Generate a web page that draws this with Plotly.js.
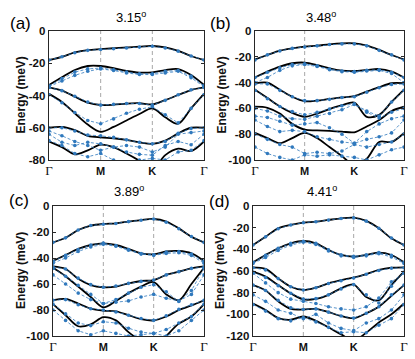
<!DOCTYPE html>
<html><head><meta charset="utf-8">
<script src="https://cdn.plot.ly/plotly-3.0.1.min.js"></script>
<style>html,body{margin:0;padding:0;background:#fff}#chart{width:415px;height:359px}</style>
</head><body><div id="chart"></div>
<script>
// k-path sample positions (Γ=0, M=1, K=2, Γ=3)
const kPath = [0,0.25,0.5,0.75,1,1.25,1.5,1.75,2,2.25,2.5,2.75,3];
const kTickVals = [0,1,2,3];
const kTickLabels = ['Γ','M','K','Γ'];
const panelLabels = ['(a)','(b)','(c)','(d)'];
const panelAngles = ['3.15','3.48','3.89','4.41'];
const yAxisTitle = 'Energy (meV)';
const yMins = [-80,-100,-100,-120];

// (a) 3.15°
const aBlack1 = [-18,-16,-13.3,-11.8,-11.2,-10.7,-10.1,-9.7,-9.3,-10.2,-12.3,-15.5,-18];
const aBlack2 = [-33.5,-28.7,-24.2,-21.7,-21.7,-23.1,-24.8,-25.8,-25.6,-24.2,-23.6,-27.3,-33.5];
const aBlack3 = [-35,-37,-40.7,-44.4,-45.9,-45.7,-45,-44.8,-45.5,-42.8,-39.7,-36.6,-35];
const aBlack4 = [-39,-44,-51,-58,-62.5,-59.5,-55.5,-51.5,-48,-53.5,-57.5,-48,-39];
const aBlack5 = [-60,-59.5,-61.5,-65,-66,-66.5,-67.5,-69,-70,-68,-63.5,-60,-60];
const aBlack6 = [-68.5,-72,-76.5,-74,-70.5,-72,-76,-80.5,-86,-77,-73,-74.5,-68.5];
const aBlue1 = [-18,-16,-13.5,-12,-11.5,-11,-10.5,-10,-9.5,-10.5,-12.5,-15.5,-18];
const aBlue2 = [-34,-29.5,-25.5,-23.5,-23,-24,-25.5,-26.5,-26.5,-25,-24.5,-28,-34];
const aBlue3 = [-34.5,-31,-27.5,-25,-23.5,-24.5,-26,-27,-27,-26,-25,-29,-34.5];
const aBlue4 = [-35,-37,-40.5,-44,-46,-45.5,-45,-45,-46,-43,-39.5,-36.5,-35];
const aBlue5 = [-39.5,-44.5,-50.5,-55.5,-57.5,-54.5,-51,-48.5,-47,-52,-57,-48,-39.5];
const aBlue6 = [-60,-60,-62,-64.5,-65,-66,-67.5,-69,-70,-68.5,-63.5,-60.5,-60];
const aBlue7 = [-62,-65,-68.5,-71,-74,-72,-71,-72,-75,-72,-64,-63,-62];
const aBlue8 = [-64,-69,-71,-69,-70,-72,-75,-76.5,-77,-71,-68.5,-70.5,-64];
const aBlue9 = [-68,-71,-76,-78,-76,-80,-82,-80,-79,-80,-75,-74,-68];

// (b) 3.48°
const bBlack1 = [-22,-18.6,-15.2,-13.4,-12.1,-11.4,-10.3,-9.6,-9.6,-11.4,-14.7,-18.6,-22];
const bBlack2 = [-36,-31.5,-27.6,-25,-24.5,-26.4,-29,-30.7,-31,-30.2,-29.5,-31.5,-36];
const bBlack3 = [-40.5,-40,-45.5,-51,-54.5,-54,-52.7,-51.5,-50.5,-47,-43.5,-40.5,-40.5];
const bBlack4 = [-45.5,-52,-58.5,-63.5,-66.5,-64,-60.5,-57.5,-55.5,-66.5,-65,-55,-45.5];
const bBlack5 = [-58.7,-59.5,-64,-72,-76.5,-77,-77.5,-78,-78.5,-74,-69,-62,-58.7];
const bBlack6 = [-79,-83,-87,-83,-79,-83,-90,-97,-104,-99,-86,-86,-79];
const bBlue1 = [-22.5,-18.5,-15.5,-13.5,-12.5,-11.5,-10.5,-10,-10,-11.5,-15,-18.5,-22.5];
const bBlue2 = [-36,-32,-28.5,-26,-25.5,-27,-29.5,-31,-31.5,-30.5,-30,-32,-36];
const bBlue3 = [-40,-36,-30.5,-27,-26,-27.5,-30,-31.5,-32,-31,-30.5,-33,-40];
const bBlue4 = [-41,-41,-46,-51,-54,-54,-53,-51.5,-51,-47.5,-44,-41.5,-41];
const bBlue5 = [-46,-52.5,-58.5,-62.5,-65,-63,-60.5,-58,-56.5,-62,-66,-55,-46];
const bBlue6 = [-60,-62,-66,-68,-68.5,-66,-64,-61,-57,-63,-67.5,-63,-60];
const bBlue7 = [-66,-67,-70,-73,-72,-71,-75,-80,-87,-78,-72,-68,-66];
const bBlue8 = [-69,-74,-78,-77,-78,-82,-84,-86,-87,-84,-82,-79,-69];
const bBlue9 = [-80,-84,-88,-90,-95,-94,-95,-93,-88,-90,-88,-86,-80];
const bBlue10 = [-90,-95,-98,-100,-96,-97,-96,-97,-98,-100,-96,-92,-90];

// (c) 3.89°
const cBlack1 = [-28,-24.4,-18.5,-15.1,-13.8,-13.3,-12,-10.8,-10,-12,-17.2,-23.6,-28];
const cBlack2 = [-42.3,-37.7,-33,-30,-28.7,-30,-33,-36.4,-37.2,-35,-34.6,-36.4,-42.3];
const cBlack3 = [-46.5,-48.5,-56,-60.8,-62.5,-62,-59.5,-57.7,-57,-53,-50.5,-48,-46.5];
const cBlack4 = [-47.5,-54,-62,-70,-78,-73,-67,-62,-58.5,-68,-72.5,-60,-47.5];
const cBlack5 = [-72.5,-71.5,-75,-79,-80.5,-81,-84,-87,-88,-85,-80,-76.5,-72.5];
const cBlack6 = [-75.5,-84,-92.5,-91,-85.5,-88,-97,-104,-110,-100,-90.5,-85,-75.5];
const cBlue1 = [-28,-24.5,-18.5,-15,-14,-13.5,-12,-11,-10,-12.5,-17.5,-23.5,-28];
const cBlue2 = [-42.5,-38,-33.5,-30,-28.5,-30.5,-33.5,-36.5,-37.5,-35.5,-35,-37,-42.5];
const cBlue3 = [-44,-40,-35,-31.5,-29.5,-31,-34,-37,-38,-36.5,-36,-38,-44];
const cBlue4 = [-47,-48.5,-55.5,-60.5,-62.5,-61.5,-59.5,-58,-57,-53,-50.5,-48,-47];
const cBlue5 = [-48,-54,-61,-68,-75,-72,-67,-62.5,-60.5,-66,-73.5,-65,-48];
const cBlue6 = [-53,-60,-67,-72,-75,-74,-73,-70,-68,-71,-73,-68,-53];
const cBlue7 = [-72.5,-72,-76,-79,-80,-81.5,-84,-86.5,-88,-84.5,-79.5,-76,-72.5];
const cBlue8 = [-75.5,-83,-90,-92,-89,-90,-94,-97,-98,-95,-90,-85,-75.5];
const cBlue9 = [-80,-88,-96,-99,-96,-98,-100,-99,-98,-100,-96,-88,-80];

// (d) 4.41°
const dBlack1 = [-36,-28.3,-20.6,-17.5,-15.4,-14.5,-12.9,-11.4,-10.8,-13.8,-20.6,-29.8,-36];
const dBlack2 = [-52,-45.2,-39,-34.5,-32.3,-34.5,-40.6,-45.2,-46.8,-45.2,-43,-45.2,-52];
const dBlack3 = [-56.6,-58,-66.8,-74.5,-77.5,-75.4,-71.4,-68.5,-66,-62.8,-59,-57,-56.6];
const dBlack4 = [-60.6,-65.2,-73,-80.6,-86.2,-85.8,-82,-76,-72.5,-84,-87,-73,-60.6];
const dBlack5 = [-73,-78,-88,-95,-95.5,-95,-98,-101.5,-103.5,-99,-93,-83,-73];
const dBlack6 = [-90,-96,-103.5,-105,-102,-106,-112,-118.5,-124,-117,-107.5,-100,-90];
const dBlue1 = [-36,-28.5,-21,-17.5,-15.5,-14.5,-13,-11.5,-11,-14,-20.5,-29.5,-36];
const dBlue2 = [-52,-45.5,-39,-34.5,-32.5,-34.5,-40.5,-45,-46.5,-45,-43,-45.5,-52];
const dBlue3 = [-53,-47.5,-41,-36,-33.5,-35.5,-41.5,-46,-47.5,-46,-44,-47,-53];
const dBlue4 = [-57,-59,-67,-74.5,-77.5,-75.5,-71.5,-69,-66.5,-63,-59.5,-57.5,-57];
const dBlue5 = [-61,-66,-73.5,-80.5,-86,-85.5,-82,-76.5,-72.5,-82,-89.5,-74,-61];
const dBlue6 = [-62,-71,-80,-86,-88,-90,-93,-95,-96,-93,-85,-70,-62];
const dBlue7 = [-73,-78,-87,-94,-95.5,-95,-98,-101.5,-103.5,-99,-93,-82,-73];
const dBlue8 = [-82,-88,-96,-99,-104,-100,-108,-113,-115,-108,-104,-96,-82];
const dBlue9 = [-91,-97,-104,-106,-103,-107,-112,-117,-116,-117,-110,-104,-91];

const panels = [
  {black:[aBlack1,aBlack2,aBlack3,aBlack4,aBlack5,aBlack6], blue:[aBlue1,aBlue2,aBlue3,aBlue4,aBlue5,aBlue6,aBlue7,aBlue8,aBlue9], dashK:true},
  {black:[bBlack1,bBlack2,bBlack3,bBlack4,bBlack5,bBlack6], blue:[bBlue1,bBlue2,bBlue3,bBlue4,bBlue5,bBlue6,bBlue7,bBlue8,bBlue9,bBlue10], dashK:false},
  {black:[cBlack1,cBlack2,cBlack3,cBlack4,cBlack5,cBlack6], blue:[cBlue1,cBlue2,cBlue3,cBlue4,cBlue5,cBlue6,cBlue7,cBlue8,cBlue9], dashK:true},
  {black:[dBlack1,dBlack2,dBlack3,dBlack4,dBlack5,dBlack6], blue:[dBlue1,dBlue2,dBlue3,dBlue4,dBlue5,dBlue6,dBlue7,dBlue8,dBlue9], dashK:true}
];

const W = 415, H = 359;
// plot-area boxes in pixels: [left, right, top, bottom]
const boxes = [[49,204,31,160],[255,404,31,160],[53,204,206,336],[253,404,206,336]];
const labelPos = [[20,23],[220,23],[19,200],[219,201]];
const titlePos = [[131,17],[321,17],[129,191],[322,191]];
const yTitleX = [20,221,21,220];

const BLUE = '#3079bd';
const AX = '#262626';
const sans = 'Liberation Sans, Arial, sans-serif';
const tickText = kTickLabels.map(t => t === 'Γ'
  ? '<span style="font-family:Liberation Serif,serif;font-weight:normal;font-size:13px">Γ</span>'
  : t);

const traces = [];
const layout = {
  width: W, height: H, margin:{l:0,r:0,t:0,b:0},
  paper_bgcolor:'#fff', plot_bgcolor:'#fff', showlegend:false,
  shapes:[], annotations:[]
};

panels.forEach((p, i) => {
  const n = i === 0 ? '' : String(i+1);
  const xa = 'x'+n, ya = 'y'+n;
  p.black.forEach(b => traces.push({x:kPath, y:b, xaxis:xa, yaxis:ya, mode:'lines', hoverinfo:'skip',
    line:{color:'#000', width:1.8, shape:'spline', smoothing:0.9}}));
  p.blue.forEach(b => traces.push({x:kPath, y:b, xaxis:xa, yaxis:ya, mode:'lines+markers', hoverinfo:'skip',
    line:{color:BLUE, width:0.8, dash:'3px,2px'}, marker:{size:3.6, color:BLUE}}));
  const [l,r,t,bt] = boxes[i];
  const yTicks = []; for (let v = 0; v >= yMins[i]; v -= 20) yTicks.push(v);
  layout['xaxis'+n] = {domain:[l/W, r/W], anchor:ya, range:[0,3], tickvals:kTickVals, ticktext:tickText,
    ticks:'', showline:true, linecolor:AX, linewidth:1.3, mirror:true, showgrid:false, zeroline:false,
    tickfont:{family:sans, size:11, color:'#111', weight:'bold'}, ticklabelstandoff:0};
  layout['yaxis'+n] = {domain:[1-bt/H, 1-t/H], anchor:xa, range:[yMins[i],0], tickvals:yTicks,
    ticktext:yTicks.map(v => String(v)), ticks:'inside', ticklen:3, tickcolor:AX, showline:true, linecolor:AX,
    linewidth:1.3, mirror:'ticks', showgrid:false, zeroline:false,
    tickfont:{family:sans, size:11.5, color:'#111', weight:'bold'}};
  const dashXs = p.dashK ? [1,2] : [1];
  dashXs.forEach(xv => layout.shapes.push({type:'line', xref:xa, yref:ya+' domain', x0:xv, x1:xv, y0:0, y1:1,
    layer:'below', line:{color:'#a8a8a8', width:1, dash:'4px,3px'}}));
  layout.annotations.push({xref:'paper', yref:'paper', x:yTitleX[i]/W, y:1-((t+bt)/2)/H,
    text:'<b>'+yAxisTitle+'</b>', textangle:-90, showarrow:false, font:{family:sans, size:12, color:'#111'},
    xanchor:'center', yanchor:'middle'});
  layout.annotations.push({xref:'paper', yref:'paper', x:labelPos[i][0]/W, y:1-labelPos[i][1]/H,
    text:panelLabels[i], showarrow:false, font:{family:sans, size:17, color:'#000'}, xanchor:'center', yanchor:'middle'});
  layout.annotations.push({xref:'paper', yref:'paper', x:titlePos[i][0]/W, y:1-titlePos[i][1]/H,
    text:panelAngles[i]+'<sup>o</sup>', showarrow:false, font:{family:sans, size:13, color:'#000'}, xanchor:'center', yanchor:'middle'});
});

Plotly.newPlot('chart', traces, layout, {displayModeBar:false, staticPlot:true});
</script>
</body></html>
